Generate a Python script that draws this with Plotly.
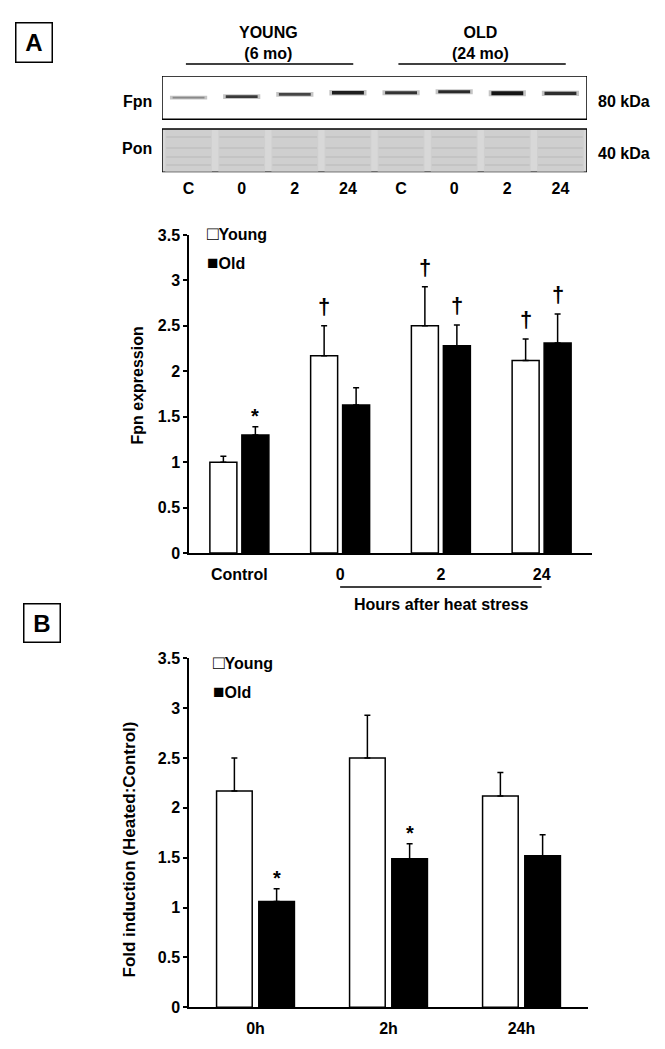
import plotly.graph_objects as go

W, H = 665, 1049
FONT = "Liberation Sans, Arial, sans-serif"

# ---------------- data ----------------
# Panel A: Fpn expression
cats_a = ["Control", "0", "2", "24"]
young_a = [1.00, 2.17, 2.50, 2.12]
young_a_err = [0.065, 0.33, 0.43, 0.235]
old_a = [1.30, 1.63, 2.28, 2.31]
old_a_err = [0.09, 0.19, 0.23, 0.32]
sig_a = [("Control", "Old", "*"), ("0", "Young", "†"), ("2", "Young", "†"),
         ("2", "Old", "†"), ("24", "Young", "†"), ("24", "Old", "†")]

# Panel B: fold induction
cats_b = ["0h", "2h", "24h"]
young_b = [2.17, 2.50, 2.12]
young_b_err = [0.33, 0.43, 0.235]
old_b = [1.06, 1.49, 1.52]
old_b_err = [0.13, 0.15, 0.21]
sig_b = [("0h", "Old", "*"), ("2h", "Old", "*")]

# Western blot (lanes, band rows measured from blot top in px)
lanes = ["C", "0", "2", "24", "C", "0", "2", "24"]
band_row = [21.7, 20.7, 18.3, 16.7, 16.7, 15.7, 17.3, 17.3]
band_thick = [1.8, 2.8, 2.8, 3.5, 3.0, 3.0, 4.0, 3.2]
band_shade = ["#8a8a8a", "#3a3a3a", "#454545", "#1e1e1e", "#333333", "#2a2a2a", "#151515", "#2e2e2e"]
pon_rows = [61, 72, 81, 89]

BARGAP = 0.365
BARGROUPGAP = 0.156


def px(x):
    return x / W


def py(y):
    return 1 - y / H


fig = go.Figure()

# ---- panel A bars ----
err_style = dict(type="data", symmetric=False, color="black", thickness=1.5, width=3)
fig.add_trace(go.Bar(x=cats_a, y=young_a, name="Young", xaxis="x", yaxis="y",
                     marker=dict(color="white", line=dict(color="black", width=1.5)),
                     error_y=dict(array=young_a_err, arrayminus=[0] * len(young_a), **err_style),
                     showlegend=False))
fig.add_trace(go.Bar(x=cats_a, y=old_a, name="Old", xaxis="x", yaxis="y",
                     marker=dict(color="black", line=dict(color="black", width=1.5)),
                     error_y=dict(array=old_a_err, arrayminus=[0] * len(old_a), **err_style),
                     showlegend=False))

# ---- panel B bars ----
fig.add_trace(go.Bar(x=cats_b, y=young_b, name="Young", xaxis="x2", yaxis="y2",
                     marker=dict(color="white", line=dict(color="black", width=1.5)),
                     error_y=dict(array=young_b_err, arrayminus=[0] * len(young_b), **err_style),
                     showlegend=False))
fig.add_trace(go.Bar(x=cats_b, y=old_b, name="Old", xaxis="x2", yaxis="y2",
                     marker=dict(color="black", line=dict(color="black", width=1.5)),
                     error_y=dict(array=old_b_err, arrayminus=[0] * len(old_b), **err_style),
                     showlegend=False))

# ---- blot ----
shapes = []
shapes.append(dict(type="rect", xref="x3", yref="y3", x0=-0.5, x1=7.5, y0=0, y1=43.3,
                   fillcolor="white", line=dict(color="black", width=1.5), layer="below"))
shapes.append(dict(type="rect", xref="x3", yref="y3", x0=-0.5, x1=7.5, y0=53, y1=96.3,
                   fillcolor="#d8d8d8", line=dict(color="black", width=1.5), layer="below"))
for i, _ in enumerate(lanes):
    shapes.append(dict(type="rect", xref="x3", yref="y3", x0=i - 0.44, x1=i + 0.44, y0=54, y1=95.5,
                       fillcolor="#cfcfcf", line=dict(width=0), layer="below"))
    for r in pon_rows:
        fig.add_trace(go.Scatter(x=[i - 0.42, i + 0.42], y=[r, r], xaxis="x3", yaxis="y3",
                                 mode="lines", line=dict(color="#c4c4c4", width=2),
                                 showlegend=False, hoverinfo="skip"))
    # soft halo + core for each Fpn band
    fig.add_trace(go.Scatter(x=[i - 0.35, i + 0.35], y=[band_row[i], band_row[i]],
                             xaxis="x3", yaxis="y3", mode="lines",
                             line=dict(color="rgba(90,90,90,0.35)", width=band_thick[i] + 2),
                             showlegend=False, hoverinfo="skip"))
    fig.add_trace(go.Scatter(x=[i - 0.3, i + 0.3], y=[band_row[i], band_row[i]],
                             xaxis="x3", yaxis="y3", mode="lines",
                             line=dict(color=band_shade[i], width=band_thick[i]),
                             showlegend=False, hoverinfo="skip"))

# group lines above blot
shapes.append(dict(type="line", xref="x3", yref="paper", x0=-0.05, x1=3.1, y0=py(64), y1=py(64),
                   line=dict(color="black", width=1.5)))
shapes.append(dict(type="line", xref="x3", yref="paper", x0=3.95, x1=7.1, y0=py(64), y1=py(64),
                   line=dict(color="black", width=1.5)))
# line under heat-stress hours
shapes.append(dict(type="line", xref="x", yref="paper", x0=1, x1=3, y0=py(587), y1=py(587),
                   line=dict(color="black", width=1.5)))

bold = dict(family=FONT, size=16, color="black", weight="bold")

annotations = []


def add_text(text, x, y, xref="paper", yref="paper", xanchor="center", yanchor="middle", size=16, **kw):
    annotations.append(dict(text=text, x=x, y=y, xref=xref, yref=yref, xanchor=xanchor,
                            yanchor=yanchor, showarrow=False,
                            font=dict(family=FONT, size=size, color="black", weight="bold"), **kw))


# panel letters
add_text("A", px(33.5), py(43), size=24, width=33, height=36, bordercolor="black", borderwidth=1.5, borderpad=1)
add_text("B", px(41.5), py(622.5), size=24, width=33, height=35, bordercolor="black", borderwidth=1.5, borderpad=1)

# y-axis titles
add_text("Fpn expression", px(136.5), py(386), textangle=-90)
add_text("Fold induction (Heated:Control)", px(128.5), py(850), size=17, textangle=-90)

# blot labels
add_text("YOUNG<br>(6 mo)", 1.5, py(43), xref="x3")
add_text("OLD<br>(24 mo)", 5.5, py(43), xref="x3")
add_text("Fpn", px(154), 25.7, yref="y3", xanchor="right")
add_text("Pon", px(154), 72.3, yref="y3", xanchor="right")
add_text("80 kDa", px(596), 25.7, yref="y3", xanchor="left")
add_text("40 kDa", px(596), 77, yref="y3", xanchor="left")

# legends
SQ_W = "<span style='font-size:19px'>□</span>"
SQ_B = "<span style='font-size:19px'>■</span>"
add_text(SQ_W + "Young", px(205), py(233), xanchor="left")
add_text(SQ_B + "Old", px(205), py(262), xanchor="left")
add_text(SQ_W + "Young", px(211), py(662), xanchor="left")
add_text(SQ_B + "Old", px(211), py(691), xanchor="left")

# x-axis group caption
add_text("Hours after heat stress", 2, py(604), xref="x")

# significance marks
off = (1 - BARGAP) / 4


def sig_marks(sig, cats, yv, ye, ov, oe, xref, yref):
    for cat, series, sym in sig:
        i = cats.index(cat)
        if series == "Young":
            x, top = i - off, yv[i] + ye[i]
        else:
            x, top = i + off, ov[i] + oe[i]
        if sym == "†":
            add_text(sym, x, top, xref=xref, yref=yref, yanchor="bottom", size=22, yshift=5)
        else:
            add_text(sym, x, top, xref=xref, yref=yref, yanchor="bottom", size=20, yshift=-2)


sig_marks(sig_a, cats_a, young_a, young_a_err, old_a, old_a_err, "x", "y")
sig_marks(sig_b, cats_b, young_b, young_b_err, old_b, old_b_err, "x2", "y2")

yaxis_common = dict(range=[0, 3.5], dtick=0.5, showline=True, linecolor="black", linewidth=1.5,
                    ticks="outside", ticklen=4, tickwidth=1.5, tickcolor="black",
                    showgrid=False, zeroline=False, tickfont=bold, automargin=False)
xaxis_common = dict(type="category", showline=True, linecolor="black", linewidth=1.5,
                    ticks="", showgrid=False, zeroline=False, tickfont=bold, automargin=False,
                    ticklabelstandoff=6)

fig.update_layout(
    width=W, height=H, autosize=False,
    margin=dict(l=0, r=0, t=0, b=0),
    paper_bgcolor="white", plot_bgcolor="white",
    barmode="group", bargap=BARGAP, bargroupgap=BARGROUPGAP,
    font=dict(family=FONT, color="black"),
    xaxis=dict(domain=[px(189), px(592)], anchor="y", categoryorder="array", categoryarray=cats_a,
               **xaxis_common),
    yaxis=dict(domain=[py(553), py(235)], anchor="x", **yaxis_common),
    xaxis2=dict(domain=[px(189), px(588)], anchor="y2", categoryorder="array", categoryarray=cats_b,
                **xaxis_common),
    yaxis2=dict(domain=[py(1007.3), py(658.3)], anchor="x2", **yaxis_common),
    xaxis3=dict(domain=[px(162), px(587)], anchor="y3", range=[-0.5, 7.5],
                tickmode="array", tickvals=list(range(len(lanes))), ticktext=lanes,
                ticks="", showline=False, showgrid=False, zeroline=False, tickfont=bold,
                automargin=False, ticklabelstandoff=5),
    yaxis3=dict(domain=[py(172.3), py(76)], anchor="x3", range=[96.3, 0],
                showticklabels=False, ticks="", showline=False, showgrid=False, zeroline=False,
                automargin=False),
    shapes=shapes,
    annotations=annotations,
)

fig.write_html("out.html", config={"displayModeBar": False},
               post_script="document.body.style.margin='0px';document.body.style.overflow='hidden';")
